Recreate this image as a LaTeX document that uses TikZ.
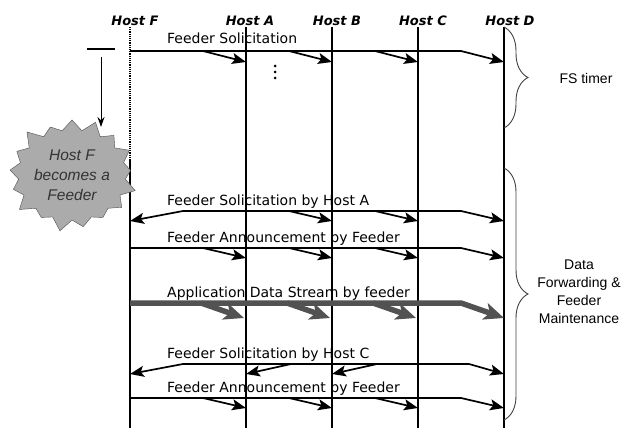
\documentclass[tikz,border=0pt]{standalone}
\usepackage{fontspec}
\setmainfont{DejaVu Sans}
\newfontfamily\notefont{Liberation Sans}
\usetikzlibrary{arrows.meta,calc,shapes.symbols,decorations.pathreplacing}

\tikzset{
  host/.style={anchor=south, inner sep=1pt, font=\fontsize{13}{15}\selectfont\bfseries\itshape},
  life/.style={line width=1.2pt},
  msg/.style={line width=1.7pt, ->},
  data/.style={line width=5.5pt, draw=black!68, -{Stealth[length=20pt,width=17pt,inset=5pt]}},
  lbl/.style={anchor=base west, inner sep=0pt, font=\fontsize{14}{16}\selectfont},
  note/.style={align=center, inner sep=0pt, font=\notefont\fontsize{14}{18}\selectfont},
  brace/.style={decorate, decoration={brace, amplitude=24pt}, line width=0.9pt, draw=black!75},
  burst/.style={starburst, starburst points=17, starburst point height=14pt,
    minimum width=132pt, minimum height=118pt, inner sep=0pt, draw=black!70,
    fill=black!33, text=black!80, align=center,
    font=\notefont\itshape\fontsize{15.5}{20}\selectfont}
}

\begin{document}
\begin{tikzpicture}[x=1pt, y=-1pt, >={Stealth[length=14pt,width=11pt,inset=3pt]}]
    \useasboundingbox (0,0) rectangle (625,428);

    % lifelines
    \coordinate (F) at (130,27);
    \coordinate (A) at (246,27);
    \coordinate (B) at (332,27);
    \coordinate (C) at (418,27);
    \coordinate (D) at (504,27);
    \coordinate (bot) at (0,428);
    \coordinate (sw) at (0,160);
    \node [host] (hF) at ([xshift=5]F) {Host F};
    \node [host] (hA) at ([xshift=4]A) {Host A};
    \node [host] (hB) at ([xshift=5]B) {Host B};
    \node [host] (hC) at ([xshift=5]C) {Host C};
    \node [host] (hD) at ([xshift=6]D) {Host D};
    \draw [life, densely dotted] (F) -- (F |- sw);
    \draw [life] (F |- sw) -- (F |- bot);
    \foreach \h in {A,B,C,D}
        \draw [life] (\h) -- (\h |- bot);

    % message rows: line level and arrow tip level
    \coordinate (r1) at (0,51);  \coordinate (t1) at (0,62);
    \coordinate (r2) at (0,211); \coordinate (t2) at (0,221);
    \coordinate (r3) at (0,248); \coordinate (t3) at (0,258);
    \coordinate (r4) at (0,303); \coordinate (t4) at (0,318);
    \coordinate (r5) at (0,364); \coordinate (t5) at (0,374);
    \coordinate (r6) at (0,398); \coordinate (t6) at (0,408);

    % first solicitation
    \node [lbl] (m1) at (167,44) {Feeder Solicitation};
    \draw [msg] (F |- r1) -- ($(D |- r1)+(-43,0)$) -- (D |- t1);
    \foreach \h in {A,B,C}
        \draw [msg] ($(\h |- r1)+(-43,0)$) -- (\h |- t1);
    \foreach \i in {0,1,2}
        \fill ($(A |- t1)+(29,4+6*\i)$) circle (1.5);

    % FS timer
    \coordinate (b1) at (0,128);
    \draw [brace] (D) -- (D |- b1);
    \node [note] (fs) at (586,78) {FS timer};

    % Host F takes over
    \coordinate (tk) at (101,49);
    \coordinate (tkend) at (101,127);
    \draw [line width=1.2pt] ($(tk)+(-14,0)$) -- ($(tk)+(14,0)$);
    \draw [line width=1pt, -{Stealth[length=10pt,width=7pt]}] ($(tk)+(0,8)$) -- (tkend);
    \node [burst] (fb) at (72,175) {Host F\\becomes a\\Feeder};

    % solicitation by Host A
    \node [lbl] (m2) at (167,205) {Feeder Solicitation by Host A};
    \draw [msg] ($(F |- r2)+(53,0)$) -- (F |- t2);
    \draw [msg] ($(F |- r2)+(53,0)$) -- ($(D |- r2)+(-43,0)$) -- (D |- t2);
    \foreach \h in {B,C}
        \draw [msg] ($(\h |- r2)+(-43,0)$) -- (\h |- t2);

    % announcement
    \node [lbl] (m3) at (167,242) {Feeder Announcement by Feeder};
    \draw [msg] (F |- r3) -- ($(D |- r3)+(-43,0)$) -- (D |- t3);
    \foreach \h in {A,B,C}
        \draw [msg] ($(\h |- r3)+(-43,0)$) -- (\h |- t3);

    % data stream
    \node [lbl] (m4) at (167,298) {Application Data Stream by feeder};
    \draw [data] (F |- r4) -- ($(D |- r4)+(-43,0)$) -- (D |- t4);
    \foreach \h in {A,B,C}
        \draw [data] ($(\h |- r4)+(-45,0)$) -- ($(\h |- t4)+(-2,0)$);

    % solicitation by Host C
    \node [lbl] (m5) at (167,358) {Feeder Solicitation by Host C};
    \draw [msg] ($(F |- r5)+(53,0)$) -- (F |- t5);
    \draw [msg] ($(F |- r5)+(53,0)$) -- ($(D |- r5)+(-35,0)$) -- (D |- t5);
    \foreach \h in {A,B}
        \draw [msg] ($(\h |- r5)+(45,0)$) -- (\h |- t5);

    % announcement again
    \node [lbl] (m6) at (167,392) {Feeder Announcement by Feeder};
    \draw [msg] (F |- r6) -- ($(D |- r6)+(-43,0)$) -- (D |- t6);
    \foreach \h in {A,B,C}
        \draw [msg] ($(\h |- r6)+(-43,0)$) -- (\h |- t6);

    % forwarding phase
    \coordinate (b2) at (0,168);
    \coordinate (b3) at (0,420);
    \draw [brace] (D |- b2) -- (D |- b3);
    \node [note] (df) at (579,292) {Data\\Forwarding \&\\Feeder\\Maintenance};
\end{tikzpicture}
\end{document}
